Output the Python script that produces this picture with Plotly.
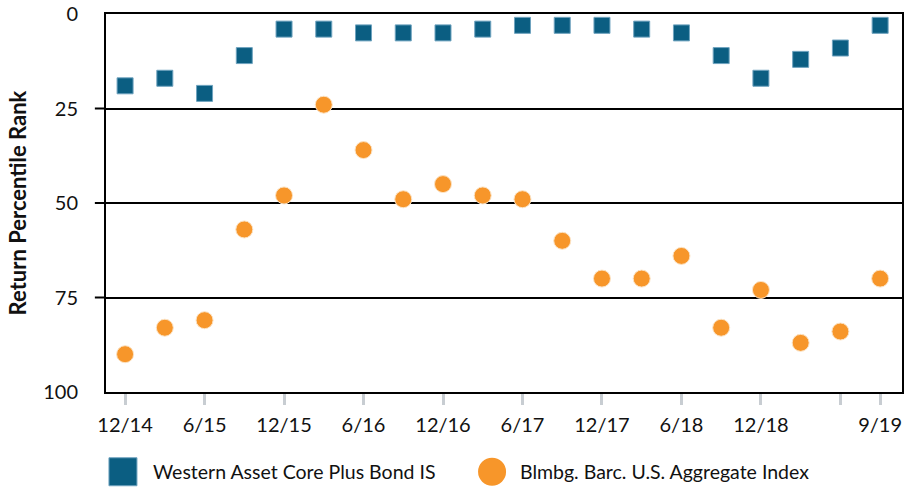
import plotly.graph_objects as go

# Quarter-end dates, 12/14 through 9/19
quarters = ["12/14", "3/15", "6/15", "9/15", "12/15", "3/16", "6/16", "9/16", "12/16", "3/17",
            "6/17", "9/17", "12/17", "3/18", "6/18", "9/18", "12/18", "3/19", "6/19", "9/19"]
fund_rank = [19, 17, 21, 11, 4, 4, 5, 5, 5, 4, 3, 3, 3, 4, 5, 11, 17, 12, 9, 3]
index_rank = [90, 83, 81, 57, 48, 24, 36, 49, 45, 48, 49, 60, 70, 70, 64, 83, 73, 87, 84, 70]

# x ticks shown every other quarter plus the last one (6/19 has a tick but no label)
tick_pos = [0, 2, 4, 6, 8, 10, 12, 14, 16, 18, 19]
tick_text = ["12/14", "6/15", "12/15", "6/16", "12/16", "6/17", "12/17", "6/18", "12/18", "", "9/19"]
y_ticks = [0, 25, 50, 75, 100]

series_names = ["Western Asset Core Plus Bond IS", "Blmbg. Barc. U.S. Aggregate Index"]
BLUE = "#0B5E82"
ORANGE = "#F7962A"
FONT = "Lato"

x = list(range(len(quarters)))

fig = go.Figure()
fig.add_trace(go.Scatter(
    x=x, y=fund_rank, mode="markers", name=series_names[0],
    marker=dict(symbol="square", size=16, color=BLUE, line=dict(color="#6FA3BF", width=1)),
    text=quarters, hovertemplate="%{text}: %{y}<extra></extra>",
))
fig.add_trace(go.Scatter(
    x=x, y=index_rank, mode="markers", name=series_names[1],
    marker=dict(symbol="circle", size=17, color=ORANGE, line=dict(color="#FCE3C4", width=1)),
    text=quarters, hovertemplate="%{text}: %{y}<extra></extra>",
))

# short black tick stubs on the left for the inner gridlines only
shapes = []
for v in y_ticks[1:-1]:
    shapes.append(dict(type="line", xref="paper", yref="y", x0=-0.014, x1=0, y0=v, y1=v,
                       line=dict(color="black", width=2), layer="below"))

# hand-made legend so the swatches can be as large as in the original
shapes.append(dict(type="rect", xref="paper", yref="paper", xsizemode="pixel", ysizemode="pixel",
                   xanchor=0.0213, yanchor=-0.211, x0=-14, x1=14, y0=-14, y1=14,
                   fillcolor=BLUE, line=dict(color="#6FA3BF", width=1)))
shapes.append(dict(type="circle", xref="paper", yref="paper", xsizemode="pixel", ysizemode="pixel",
                   xanchor=0.485, yanchor=-0.211, x0=-14, x1=14, y0=-14, y1=14,
                   fillcolor=ORANGE, line=dict(color=ORANGE, width=0)))

annotations = [
    dict(text=series_names[0], xref="paper", yref="paper", x=0.056, y=-0.211,
         xanchor="left", yanchor="middle", showarrow=False, font=dict(size=19.5, color="#111")),
    dict(text=series_names[1], xref="paper", yref="paper", x=0.517, y=-0.211,
         xanchor="left", yanchor="middle", showarrow=False, font=dict(size=19.5, color="#111")),
]

fig.update_layout(
    width=905, height=488,
    margin=dict(l=106, r=1, t=13, b=96),
    paper_bgcolor="white", plot_bgcolor="white",
    font=dict(family=FONT, size=20, color="#111"),
    showlegend=False,
    shapes=shapes,
    annotations=annotations,
)
fig.update_xaxes(
    range=[-0.48, 19.55], tickmode="array", tickvals=tick_pos, ticktext=tick_text,
    ticks="outside", ticklen=11, tickwidth=3, tickcolor="#C8CDD2",
    ticklabelstandoff=3,
    showgrid=False, zeroline=False,
    showline=True, linecolor="black", linewidth=2, mirror=True,
    tickfont=dict(size=20),
)
fig.update_yaxes(
    range=[100, 0], tickmode="array", tickvals=y_ticks,
    showgrid=True, gridcolor="black", gridwidth=2, zeroline=False,
    showline=True, linecolor="black", linewidth=2, mirror=True,
    ticks="", ticklabelstandoff=22,
    tickfont=dict(size=20),
    title=dict(text="<b>Return Percentile Rank</b>", font=dict(size=22), standoff=10),
)

# the page's default body margin would push the chart 8px off the window
fig.write_html("out.html", config={"displayModeBar": False},
               post_script="document.body.style.margin='0';")
